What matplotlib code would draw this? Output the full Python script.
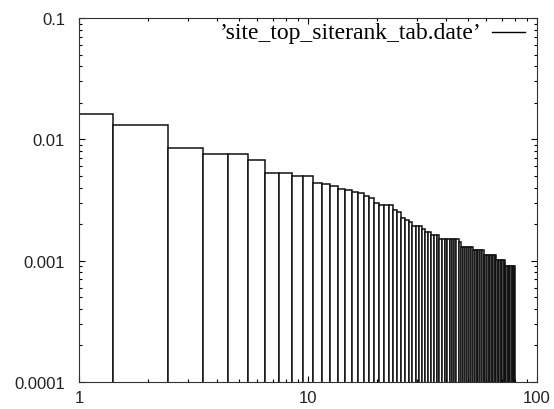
import matplotlib
matplotlib.use("Agg")
import matplotlib.pyplot as plt
import numpy as np
from matplotlib.font_manager import FontProperties

# ---- data ----
rank = list(range(1, 81))
share = [0.0163, 0.0132, 0.0085, 0.0075, 0.0075, 0.0067, 0.0053, 0.0053, 0.0050, 0.0050,
         0.0044, 0.0043, 0.0041, 0.0039, 0.0038, 0.0037, 0.0036, 0.0034, 0.0033, 0.0030,
         0.0029, 0.0029, 0.0029, 0.0026, 0.0025, 0.00226, 0.00215, 0.00208, 0.00192, 0.00192,
         0.00192, 0.00181, 0.00172, 0.00172, 0.00163, 0.00163, 0.00163, 0.0015, 0.0015, 0.0015,
         0.0015, 0.0015, 0.0015, 0.0015, 0.0015, 0.00143, 0.0013, 0.0013, 0.0013, 0.0013,
         0.0013, 0.0013, 0.00123, 0.00123, 0.00123, 0.00123, 0.00123, 0.00123, 0.00112, 0.00112,
         0.00112, 0.00112, 0.00112, 0.00112, 0.00112, 0.00112, 0.00101, 0.00101, 0.00101, 0.00101,
         0.00101, 0.00101, 0.00091, 0.00091, 0.00091, 0.00091, 0.00091, 0.00091, 0.00091, 0.00091]
series_label = "\u2019site_top_siterank_tab.date\u2019"
x_ticks = [1, 10, 100]
x_ticklabels = ["1", "10", "100"]
y_ticks = [0.0001, 0.001, 0.01, 0.1]
y_ticklabels = ["0.0001", "0.001", "0.01", "0.1"]

# ---- box edges (gnuplot-style boxes on log axis: geometric midpoints) ----
xs = np.array(rank, dtype=float)
mids = np.sqrt(xs[:-1] * xs[1:])
left = np.concatenate([[xs[0] ** 2 / mids[0]], mids])
right = np.concatenate([mids, [xs[-1] ** 2 / mids[-1]]])

fig = plt.figure(figsize=(5.54, 4.10), dpi=100)
ax = fig.add_axes([79 / 554, 27 / 410, 458 / 554, 364 / 410])
ax.set_xscale("log")
ax.set_yscale("log")

ax.bar(left, np.array(share) - 1e-6, width=right - left, bottom=1e-6, align="edge",
       facecolor="white", edgecolor="#111111", linewidth=1.1)

ax.set_xlim(1, 100)
ax.set_ylim(0.0001, 0.1)

ax.set_xticks(x_ticks, x_ticklabels)
ax.set_yticks(y_ticks, y_ticklabels)
ax.tick_params(axis="both", which="both", direction="in", top=True, right=True,
               color="black", width=0.8)
ax.tick_params(axis="both", which="major", length=4.3, labelsize=12)
ax.tick_params(axis="both", which="minor", length=2.2)
ax.tick_params(axis="x", which="major", pad=6)
ax.tick_params(axis="y", which="major", pad=10)
ax.xaxis.set_minor_formatter(matplotlib.ticker.NullFormatter())
ax.yaxis.set_minor_formatter(matplotlib.ticker.NullFormatter())
for lab in ax.get_xticklabels() + ax.get_yticklabels():
    lab.set_fontfamily("Liberation Sans")
    lab.set_color("#222222")
for sp in ax.spines.values():
    sp.set_linewidth(0.8)
    sp.set_color("#333333")

ax.text(0.879, 0.961, series_label, transform=ax.transAxes, ha="right", va="center",
        fontproperties=FontProperties(family="Liberation Serif", size=17.0), color="black")
ax.plot([0.9017, 0.9738], [0.961, 0.961], transform=ax.transAxes, color="black",
        linewidth=1.0, clip_on=False)

fig.savefig("out.png", dpi=100)
